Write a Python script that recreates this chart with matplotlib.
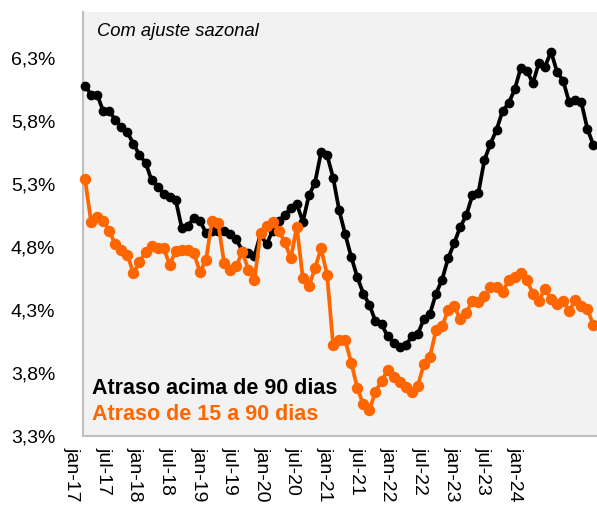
import matplotlib
matplotlib.use("Agg")
import matplotlib.pyplot as plt
from matplotlib.ticker import FuncFormatter, FixedLocator

plt.rcParams['font.family'] = ['Liberation Sans', 'DejaVu Sans']

tick_labels = ["jan-17", "jul-17", "jan-18", "jul-18", "jan-19", "jul-19", "jan-20",
               "jul-20", "jan-21", "jul-21", "jan-22", "jul-22", "jan-23", "jul-23", "jan-24"]

# monthly values jan-17 .. jan-24 (85 points), in %
atraso_90 = [6.08, 6.01, 6.01, 5.88, 5.88, 5.81, 5.75, 5.71, 5.62, 5.53,
             5.47, 5.33, 5.28, 5.22, 5.20, 5.17, 4.95, 4.97, 5.03, 5.01,
             4.91, 4.93, 4.93, 4.93, 4.90, 4.86, 4.77, 4.75, 4.73, 4.90,
             4.82, 4.93, 5.01, 5.05, 5.11, 5.14, 5.00, 5.21, 5.31, 5.55,
             5.53, 5.35, 5.09, 4.90, 4.72, 4.56, 4.43, 4.34, 4.21, 4.19,
             4.09, 4.04, 4.01, 4.02, 4.09, 4.11, 4.23, 4.27, 4.43, 4.54,
             4.71, 4.83, 4.96, 5.05, 5.21, 5.23, 5.49, 5.62, 5.73, 5.88,
             5.94, 6.05, 6.22, 6.20, 6.10, 6.26, 6.23, 6.35, 6.19, 6.12,
             5.95, 5.97, 5.95, 5.74, 5.61]

atraso_15_90 = [5.34, 5.00, 5.04, 5.01, 4.93, 4.82, 4.78, 4.74, 4.59, 4.68,
                4.76, 4.81, 4.79, 4.79, 4.66, 4.77, 4.78, 4.78, 4.75, 4.60,
                4.70, 5.01, 4.99, 4.67, 4.62, 4.65, 4.76, 4.62, 4.54, 4.91,
                4.97, 5.00, 4.93, 4.84, 4.71, 4.96, 4.55, 4.49, 4.63, 4.79,
                4.58, 4.02, 4.06, 4.06, 3.88, 3.68, 3.55, 3.51, 3.65, 3.74,
                3.82, 3.77, 3.73, 3.69, 3.65, 3.70, 3.87, 3.93, 4.14, 4.17,
                4.30, 4.33, 4.23, 4.28, 4.37, 4.36, 4.41, 4.48, 4.48, 4.44,
                4.54, 4.56, 4.59, 4.54, 4.43, 4.37, 4.47, 4.39, 4.35, 4.37,
                4.29, 4.38, 4.33, 4.31, 4.18]

y_ticks = [3.3, 3.8, 4.3, 4.8, 5.3, 5.8, 6.3]

W, H = 597, 508
fig = plt.figure(figsize=(W / 100, H / 100), dpi=100)
fig.patch.set_facecolor('white')

left_px, right_px, top_px, bot_px = 83, 597, 12, 436
ax = fig.add_axes([left_px / W, 1 - bot_px / H, (right_px - left_px) / W, (bot_px - top_px) / H])
ax.set_facecolor('#f2f2f2')

x = list(range(len(atraso_90)))
ax.plot(x, atraso_90, color='black', lw=2.7, marker='o', ms=6, zorder=3, clip_on=False)
ax.plot(x, atraso_15_90, color='#ff6600', lw=2.7, marker='o', ms=7.2, zorder=4, clip_on=False)

ax.set_xlim(-0.33, 84.6)
ax.set_ylim(3.3, 6.665)
ax.yaxis.set_major_locator(FixedLocator(y_ticks))
ax.yaxis.set_major_formatter(FuncFormatter(lambda v, p: f"{v:.1f}".replace('.', ',') + "%"))
ax.tick_params(axis='y', length=0, pad=20, labelsize=14)
ax.set_xticks([])

for s in ['top', 'right']:
    ax.spines[s].set_visible(False)
for s in ['left', 'bottom']:
    ax.spines[s].set_color('#bfbfbf')
    ax.spines[s].set_linewidth(1.5)

# category label axis (labels as drawn in the source, slightly compressed)
lab_left_px, lab_right_px = 72, 515
lax = fig.add_axes([lab_left_px / W, 1 - bot_px / H, (lab_right_px - lab_left_px) / W, 0.0001])
lax.set_xlim(0, len(tick_labels) - 1)
lax.set_xticks(range(len(tick_labels)))
lax.set_xticklabels(tick_labels, rotation=-90, fontsize=14)
lax.tick_params(axis='x', length=0, pad=8)
lax.set_yticks([])
lax.patch.set_visible(False)
for s in lax.spines.values():
    s.set_visible(False)

ax.text(0.027, (bot_px - 31) / (bot_px - top_px), "Com ajuste sazonal", transform=ax.transAxes,
        fontsize=13.2, style='italic', ha='left', va='center', color='black')
ax.text(0.0175, (bot_px - 389) / (bot_px - top_px), "Atraso acima de 90 dias", transform=ax.transAxes,
        fontsize=15.5, fontweight='bold', ha='left', va='center', color='black')
ax.text(0.0175, (bot_px - 414) / (bot_px - top_px), "Atraso de 15 a 90 dias", transform=ax.transAxes,
        fontsize=15.5, fontweight='bold', ha='left', va='center', color='#ff6600')

fig.savefig("out.png", dpi=100)
